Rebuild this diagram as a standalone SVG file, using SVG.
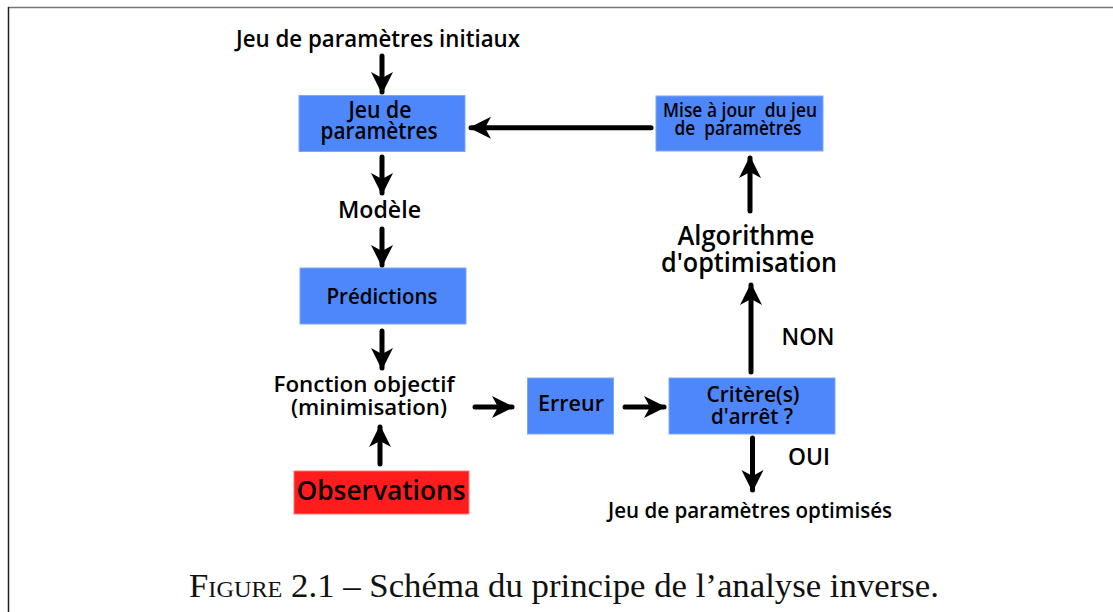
<svg xmlns="http://www.w3.org/2000/svg" width="1113" height="612" viewBox="0 0 1113 612">
<defs>
<marker id="ah" markerUnits="userSpaceOnUse" markerWidth="24" markerHeight="24" viewBox="0 0 24 24" refX="20" refY="12" orient="auto">
<path d="M0,1 L22,12 L0,23 L6,12 Z" fill="#000"/>
</marker>
<style>
.t{font-family:"Open Sans","Noto Sans",sans-serif;font-weight:600;fill:#000;text-anchor:middle}
.pre{white-space:pre}
.box{fill:#4d87fa;stroke:#7ea6f5;stroke-width:1}
.c{stroke:#000;stroke-width:5;stroke-linecap:round;fill:none;marker-end:url(#ah)}
</style>
</defs>
<rect width="1113" height="612" fill="#fff"/>
<line x1="8" y1="7.5" x2="1113" y2="7.5" stroke="#777" stroke-width="1.5"/>
<line x1="8.5" y1="7" x2="8.5" y2="612" stroke="#222" stroke-width="1.5"/>

<g id="n-init"><text class="t" x="378" y="47" font-size="24" textLength="284" lengthAdjust="spacingAndGlyphs">Jeu de paramètres initiaux</text></g>
<g id="n-jeu"><rect class="box" x="299" y="95.5" width="166" height="56"/>
<text class="t" x="380" y="118" font-size="23" textLength="63" lengthAdjust="spacingAndGlyphs">Jeu de</text><text class="t" x="379" y="139" font-size="23" textLength="117" lengthAdjust="spacingAndGlyphs">paramètres</text></g>
<g id="n-modele"><text class="t" x="379.5" y="218" font-size="24" textLength="83" lengthAdjust="spacingAndGlyphs">Modèle</text></g>
<g id="n-pred"><rect class="box" x="300" y="268" width="166" height="56"/>
<text class="t" x="382" y="304" font-size="22" textLength="111" lengthAdjust="spacingAndGlyphs">Prédictions</text></g>
<g id="n-fonction"><text class="t" x="364" y="392" font-size="22" textLength="181" lengthAdjust="spacingAndGlyphs">Fonction objectif</text><text class="t" x="369" y="415" font-size="22" textLength="156" lengthAdjust="spacingAndGlyphs">(minimisation)</text></g>
<g id="n-obs"><rect x="294" y="471" width="175" height="43" fill="#ff1c1c" stroke="#f27a7a" stroke-width="1"/>
<text class="t" x="381" y="500" font-size="27" textLength="169" lengthAdjust="spacingAndGlyphs">Observations</text></g>
<g id="n-erreur"><rect class="box" x="527.5" y="378" width="86" height="56"/>
<text class="t" x="571" y="411" font-size="22" textLength="66" lengthAdjust="spacingAndGlyphs">Erreur</text></g>
<g id="n-critere"><rect class="box" x="669" y="378" width="166" height="56"/>
<text class="t" x="753" y="402" font-size="22" textLength="93" lengthAdjust="spacingAndGlyphs">Critère(s)</text><text class="t" x="752" y="424" font-size="22" textLength="82" lengthAdjust="spacingAndGlyphs">d'arrêt ?</text></g>
<g id="n-optimises"><text class="t" x="750" y="518" font-size="22" textLength="284" lengthAdjust="spacingAndGlyphs">Jeu de paramètres optimisés</text></g>
<g id="n-algo"><text class="t" x="746" y="245" font-size="27" textLength="137" lengthAdjust="spacingAndGlyphs">Algorithme</text><text class="t" x="749" y="272" font-size="27" textLength="176" lengthAdjust="spacingAndGlyphs">d'optimisation</text></g>
<g id="n-maj"><rect class="box" x="656" y="96" width="167" height="55"/>
<text class="t pre" x="740" y="117" font-size="19" textLength="154" lengthAdjust="spacingAndGlyphs">Mise à jour  du jeu</text><text class="t pre" x="738" y="135" font-size="19" textLength="127" lengthAdjust="spacingAndGlyphs">de  paramètres</text></g>

<g id="connectors">
<line class="c" x1="382" y1="56" x2="382" y2="92"/>
<line class="c" x1="382" y1="157" x2="382" y2="193"/>
<line class="c" x1="382" y1="229" x2="382" y2="265"/>
<line class="c" x1="382" y1="331" x2="382" y2="368"/>
<line class="c" x1="380" y1="464" x2="380" y2="427"/>
<line class="c" x1="475" y1="407" x2="512" y2="407"/>
<line class="c" x1="625" y1="407" x2="664" y2="407"/>
<line class="c" x1="752.5" y1="438" x2="752.5" y2="490"/>
<line class="c" x1="751" y1="372" x2="751" y2="285"/>
<line class="c" x1="750" y1="211" x2="750" y2="158"/>
<line class="c" x1="651" y1="127.7" x2="471" y2="127.7"/>
<text class="t" x="808" y="345" font-size="24" textLength="53" lengthAdjust="spacingAndGlyphs">NON</text>
<text class="t" x="809" y="465" font-size="24" textLength="42" lengthAdjust="spacingAndGlyphs">OUI</text>
</g>

<text x="189" y="597" font-family="Liberation Serif, serif" font-size="33" fill="#111" textLength="750" lengthAdjust="spacingAndGlyphs"><tspan font-variant="small-caps">Figure</tspan> 2.1 – Schéma du principe de l’analyse inverse.</text>
</svg>
